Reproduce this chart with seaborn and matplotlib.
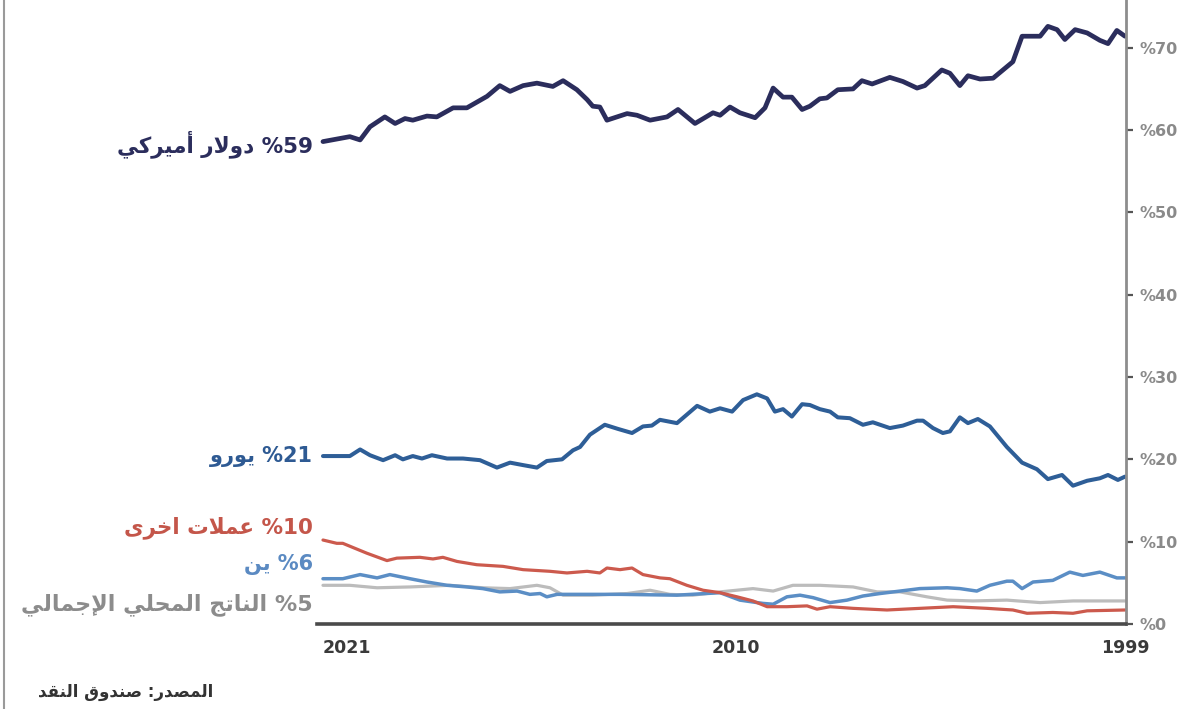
import numpy as np
import pandas as pd
import matplotlib
matplotlib.use("Agg")
import matplotlib.pyplot as plt
from matplotlib.lines import Line2D
import seaborn as sns

# ---------------- data ----------------
usd_year = [2021.68, 2020.92, 2020.63, 2020.35, 2019.93, 2019.64, 2019.36, 2019.14, 2018.74, 2018.46,
            2018.00, 2017.61, 2017.04, 2016.68, 2016.39, 2016.02, 2015.63, 2015.18, 2014.89, 2014.50,
            2014.21, 2014.05, 2013.85, 2013.65, 2013.08, 2012.80, 2012.43, 2011.95, 2011.64, 2011.16,
            2010.65, 2010.45, 2010.17, 2009.89, 2009.46, 2009.18, 2008.95, 2008.67, 2008.42, 2008.13,
            2007.91, 2007.63, 2007.43, 2007.12, 2006.69, 2006.44, 2006.15, 2005.65, 2005.28, 2004.88,
            2004.66, 2004.18, 2003.95, 2003.67, 2003.44, 2003.10, 2002.73, 2002.45, 2002.17, 2001.91,
            2001.40, 2001.18, 2000.92, 2000.70, 2000.41, 2000.07, 1999.71, 1999.48, 1999.23, 1999.00]
usd_share = [58.6, 59.2, 58.8, 60.4, 61.6, 60.8, 61.4, 61.2, 61.7, 61.6,
             62.7, 62.7, 64.1, 65.4, 64.7, 65.4, 65.7, 65.3, 66.0, 64.9,
             63.7, 62.9, 62.8, 61.2, 62.0, 61.8, 61.2, 61.6, 62.5, 60.8,
             62.1, 61.8, 62.8, 62.1, 61.5, 62.7, 65.1, 64.0, 64.0, 62.5,
             62.9, 63.8, 63.9, 64.9, 65.0, 66.0, 65.6, 66.4, 65.9, 65.1,
             65.4, 67.3, 66.9, 65.4, 66.6, 66.2, 66.3, 67.3, 68.3, 71.4,
             71.4, 72.6, 72.2, 71.0, 72.2, 71.8, 70.9, 70.5, 72.1, 71.4]

eur_year = [2021.68, 2020.92, 2020.63, 2020.35, 2019.98, 2019.64, 2019.42, 2019.14, 2018.88, 2018.60,
            2018.17, 2017.72, 2017.24, 2016.76, 2016.39, 2016.02, 2015.63, 2015.35, 2014.92, 2014.61,
            2014.41, 2014.13, 2013.71, 2013.34, 2012.94, 2012.63, 2012.38, 2012.15, 2011.67, 2011.10,
            2010.74, 2010.45, 2010.11, 2009.80, 2009.41, 2009.12, 2008.90, 2008.67, 2008.42, 2008.13,
            2007.91, 2007.63, 2007.34, 2007.12, 2006.78, 2006.41, 2006.13, 2005.65, 2005.28, 2004.88,
            2004.71, 2004.43, 2004.15, 2003.95, 2003.67, 2003.44, 2003.16, 2002.82, 2002.34, 2001.91,
            2001.49, 2001.18, 2000.78, 2000.47, 2000.07, 1999.71, 1999.48, 1999.20, 1999.00]
eur_share = [20.4, 20.4, 21.2, 20.5, 19.9, 20.5, 20.0, 20.4, 20.1, 20.5,
             20.1, 20.1, 19.9, 19.0, 19.6, 19.3, 19.0, 19.8, 20.0, 21.1,
             21.5, 23.0, 24.2, 23.7, 23.2, 24.0, 24.1, 24.8, 24.4, 26.5,
             25.8, 26.2, 25.8, 27.2, 27.9, 27.4, 25.8, 26.1, 25.2, 26.7,
             26.6, 26.1, 25.8, 25.1, 25.0, 24.2, 24.5, 23.8, 24.1, 24.7,
             24.7, 23.8, 23.2, 23.4, 25.1, 24.4, 24.9, 24.0, 21.5, 19.6,
             18.8, 17.6, 18.1, 16.8, 17.4, 17.7, 18.1, 17.5, 17.9]

oth_year = [2021.68, 2021.29, 2021.12, 2020.44, 2019.87, 2019.59, 2018.94, 2018.57, 2018.29, 2017.89,
            2017.33, 2016.59, 2016.02, 2015.26, 2014.78, 2014.21, 2013.85, 2013.65, 2013.28, 2012.94,
            2012.63, 2012.15, 2011.87, 2011.39, 2010.93, 2010.45, 2009.97, 2009.52, 2009.12, 2008.56,
            2007.99, 2007.71, 2007.34, 2006.69, 2005.73, 2004.80, 2003.86, 2002.90, 2002.17, 2001.77,
            2001.04, 2000.47, 2000.07, 1999.00]
oth_share = [10.2, 9.8, 9.8, 8.6, 7.7, 8.0, 8.1, 7.9, 8.1, 7.6,
             7.2, 7.0, 6.6, 6.4, 6.2, 6.4, 6.2, 6.8, 6.6, 6.8,
             6.0, 5.6, 5.5, 4.7, 4.1, 3.8, 3.3, 2.8, 2.1, 2.1,
             2.2, 1.8, 2.1, 1.9, 1.7, 1.9, 2.1, 1.9, 1.7, 1.3,
             1.4, 1.3, 1.6, 1.7]

jpy_year = [2021.68, 2021.12, 2020.63, 2020.15, 2019.79, 2019.22, 2018.74, 2018.17, 2017.61, 2017.16,
            2016.68, 2016.19, 2015.83, 2015.54, 2015.35, 2015.06, 2013.28, 2011.67, 2010.45, 2009.89,
            2009.24, 2008.95, 2008.56, 2008.19, 2007.82, 2007.34, 2006.86, 2006.41, 2005.93, 2005.36,
            2004.80, 2004.03, 2003.67, 2003.19, 2002.82, 2002.34, 2002.17, 2001.91, 2001.60, 2001.04,
            2000.56, 2000.19, 1999.71, 1999.23, 1999.00]
jpy_share = [5.5, 5.5, 6.0, 5.6, 6.0, 5.5, 5.1, 4.7, 4.5, 4.3,
             3.9, 4.0, 3.6, 3.7, 3.3, 3.6, 3.6, 3.5, 3.8, 2.9,
             2.5, 2.4, 3.3, 3.5, 3.2, 2.6, 2.9, 3.4, 3.7, 4.0,
             4.3, 4.4, 4.3, 4.0, 4.7, 5.2, 5.2, 4.3, 5.1, 5.3,
             6.3, 5.9, 6.3, 5.6, 5.6]

gbp_year = [2021.68, 2020.92, 2020.15, 2019.22, 2018.09, 2017.16, 2016.39, 2015.63, 2015.26, 2014.89,
            2014.05, 2013.08, 2012.43, 2011.87, 2011.22, 2010.45, 2009.52, 2008.95, 2008.39, 2007.63,
            2006.69, 2006.01, 2005.36, 2004.60, 2004.03, 2003.30, 2002.34, 2001.40, 2000.47, 1999.62,
            1999.00]
gbp_share = [4.7, 4.7, 4.4, 4.5, 4.7, 4.4, 4.3, 4.7, 4.4, 3.5,
             3.5, 3.7, 4.1, 3.6, 3.5, 3.9, 4.3, 4.0, 4.7, 4.7,
             4.5, 3.9, 3.9, 3.3, 2.9, 2.8, 2.9, 2.6, 2.8, 2.8,
             2.8]

series_labels = ["%59 دولار أميركي", "%21 يورو", "%10 عملات اخرى", "%6 ين",
                 "%5 الناتج المحلي الإجمالي"]
x_ticks = [2021, 2010, 1999]
x_tick_labels = ["2021", "2010", "1999"]
y_ticks = [0, 10, 20, 30, 40, 50, 60, 70]
y_tick_labels = ["%0", "%10", "%20", "%30", "%40", "%50", "%60", "%70"]
source_text = "المصدر: صندوق النقد"

# ---------------- Arabic shaping (matplotlib has no complex text layout) ----------------
FORMS = {
    'ا': (0xFE8D, 0xFE8E, None, None), 'أ': (0xFE83, 0xFE84, None, None),
    'إ': (0xFE87, 0xFE88, None, None), 'د': (0xFEA9, 0xFEAA, None, None),
    'ر': (0xFEAD, 0xFEAE, None, None), 'و': (0xFEED, 0xFEEE, None, None),
    'ى': (0xFEEF, 0xFEF0, None, None),
    'ت': (0xFE95, 0xFE96, 0xFE97, 0xFE98), 'ج': (0xFE9D, 0xFE9E, 0xFE9F, 0xFEA0),
    'ح': (0xFEA1, 0xFEA2, 0xFEA3, 0xFEA4), 'خ': (0xFEA5, 0xFEA6, 0xFEA7, 0xFEA8),
    'ص': (0xFEB9, 0xFEBA, 0xFEBB, 0xFEBC), 'ع': (0xFEC9, 0xFECA, 0xFECB, 0xFECC),
    'ق': (0xFED5, 0xFED6, 0xFED7, 0xFED8), 'ك': (0xFED9, 0xFEDA, 0xFEDB, 0xFEDC),
    'ل': (0xFEDD, 0xFEDE, 0xFEDF, 0xFEE0), 'م': (0xFEE1, 0xFEE2, 0xFEE3, 0xFEE4),
    'ن': (0xFEE5, 0xFEE6, 0xFEE7, 0xFEE8), 'ي': (0xFEF1, 0xFEF2, 0xFEF3, 0xFEF4),
}
LAMALEF = {'ا': (0xFEFB, 0xFEFC), 'أ': (0xFEF7, 0xFEF8), 'إ': (0xFEF9, 0xFEFA)}


def _shape_word(word):
    chars, i = [], 0
    while i < len(word):
        c = word[i]
        if c == 'ل' and i + 1 < len(word) and word[i + 1] in LAMALEF:
            chars.append(('LA', word[i + 1]))
            i += 2
        else:
            chars.append(c)
            i += 1

    def joins_forward(c):
        return isinstance(c, str) and c in FORMS and FORMS[c][2] is not None

    def is_ar(c):
        return isinstance(c, tuple) or c in FORMS

    out = []
    for k, c in enumerate(chars):
        prev = chars[k - 1] if k > 0 else None
        nxt = chars[k + 1] if k + 1 < len(chars) else None
        jp = prev is not None and joins_forward(prev)
        if isinstance(c, tuple):
            iso, fin = LAMALEF[c[1]]
            out.append(chr(fin if jp else iso))
            continue
        if c not in FORMS:
            out.append(c)
            continue
        f = FORMS[c]
        jn = f[2] is not None and nxt is not None and is_ar(nxt)
        if jp and jn:
            out.append(chr(f[3]))
        elif jp:
            out.append(chr(f[1]))
        elif jn:
            out.append(chr(f[2]))
        else:
            out.append(chr(f[0]))
    return ''.join(out)


def rtl(text):
    words = text.split(' ')
    vis = []
    for w in words:
        if any(ch.isdigit() for ch in w):
            vis.append(w)
        else:
            vis.append(_shape_word(w)[::-1])
    return ' '.join(reversed(vis))


# ---------------- styling ----------------
sns.set_style("white")
plt.rcParams['font.family'] = ['DejaVu Sans']

fig = plt.figure(figsize=(12.02, 7.09), dpi=100)
ax = fig.add_axes([0.2637, 0.1199, 0.6731, 0.8801])

colors = {"gbp": "#bcbcbc", "jpy": "#5b8ec5", "oth": "#cc5a4d",
          "eur": "#2e5e97", "usd": "#2b2d5c"}
label_colors = ["#2b2d5c", "#2e5a93", "#c4564a", "#5b8ac2", "#8c8c8c"]

frames = {
    "gbp": (gbp_year, gbp_share, 2.3),
    "jpy": (jpy_year, jpy_share, 2.5),
    "oth": (oth_year, oth_share, 2.3),
    "eur": (eur_year, eur_share, 2.9),
    "usd": (usd_year, usd_share, 3.4),
}
for key, (xs, ys, lw) in frames.items():
    df = pd.DataFrame({"year": xs, "share": ys})
    sns.lineplot(data=df, x="year", y="share", ax=ax, color=colors[key],
                 linewidth=lw, estimator=None, sort=True)

ax.set_xlim(2021.85, 1998.97)
ax.set_ylim(0, 75.8)
ax.set_xlabel("")
ax.set_ylabel("")

for s in ["left", "top"]:
    ax.spines[s].set_visible(False)
ax.spines["right"].set_color("#8d8d8d")
ax.spines["right"].set_linewidth(2.0)
ax.spines["bottom"].set_color("#4a4a4a")
ax.spines["bottom"].set_linewidth(2.6)

ax.yaxis.tick_right()
ax.set_yticks(y_ticks)
ax.set_yticklabels(y_tick_labels)
ax.tick_params(axis='y', length=5, width=1.6, color="#555555", pad=5,
               labelsize=11.5, labelcolor="#8a8a8a")
for t in ax.get_yticklabels():
    t.set_fontweight("bold")

ax.set_xticks(x_ticks)
ax.set_xticklabels(x_tick_labels)
ax.tick_params(axis='x', length=0, pad=11, labelsize=12.5, labelcolor="#3a3a3a")
for t in ax.get_xticklabels():
    t.set_fontweight("bold")

# series labels at the start (2021 side) of each line
starts = [(usd_year[0], usd_share[0]), (eur_year[0], eur_share[0]),
          (oth_year[0], oth_share[0]), (jpy_year[0], jpy_share[0]),
          (gbp_year[0], gbp_share[0])]
offsets = [(-10, -11), (-10, -6), (-10, 7), (-10, 9), (-10, -25)]
sizes = [15.5, 15, 15.5, 15, 16]
weights = ["bold", "bold", "bold", "bold", "bold"]
for (sx, sy), lab, col, off, wt, fs in zip(starts, series_labels, label_colors, offsets, weights, sizes):
    ax.annotate(rtl(lab), xy=(sx, sy), xytext=off, textcoords="offset pixels",
                ha="right", va="baseline", fontsize=fs, color=col,
                fontweight=wt, annotation_clip=False)

fig.text(213 / 1202, 1 - 692 / 709, rtl(source_text), ha="right", va="center",
         fontsize=12, fontweight="bold", color="#333333")

# thin frame line on the left edge of the graphic
fig.add_artist(Line2D([4 / 1202, 4 / 1202], [0, 1], transform=fig.transFigure,
                      color="#9a9a9a", linewidth=1.5))

fig.savefig("out.png", dpi=100)
